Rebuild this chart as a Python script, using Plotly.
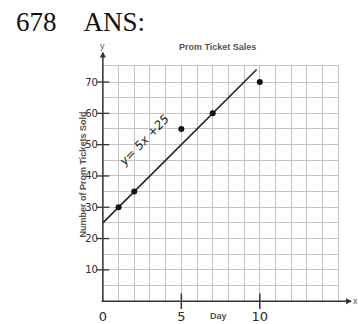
import plotly.graph_objects as go

# Prom ticket sales data
days = [1, 2, 5, 7, 10]
tickets = [30, 35, 55, 60, 70]

# Line of best fit y = 5x + 25
slope = 5
intercept = 25
fit_x = [0, 9.8]
fit_y = [slope * v + intercept for v in fit_x]

x_ticks = [0, 5, 10]
x_tick_text = ["0", "5", "10"]
y_ticks = [10, 20, 30, 40, 50, 60, 70]
y_tick_text = ["10", "20", "30", "40", "50", "60", "70"]

W, H = 358, 324
x0_px, x1_px = 100, 338
y0_px, y1_px = 304, 67

hand_font = dict(family="DejaVu Sans", size=10, color="#2a2a2a")
label_font = dict(family="Liberation Sans", size=9, color="#555555")
grid_col = "#c4c4c4"
ink = "#333333"

fig = go.Figure()

# crossing tick marks on both axes
fig.add_trace(go.Scatter(
    x=[0] * len(y_ticks), y=y_ticks, mode="markers",
    marker=dict(symbol="line-ew-open", size=9, color=ink, line=dict(color=ink, width=1.3)),
    cliponaxis=False, hoverinfo="skip", showlegend=False))
fig.add_trace(go.Scatter(
    x=x_ticks[1:], y=[0] * (len(x_ticks) - 1), mode="markers",
    marker=dict(symbol="line-ns-open", size=11, color=ink, line=dict(color=ink, width=1.5)),
    cliponaxis=False, hoverinfo="skip", showlegend=False))

fig.add_trace(go.Scatter(
    x=fit_x, y=fit_y, mode="lines",
    line=dict(color="#222", width=1.6), showlegend=False))
fig.add_trace(go.Scatter(
    x=days, y=tickets, mode="markers",
    marker=dict(color="#111", size=6), showlegend=False))

fig.update_layout(
    width=W, height=H,
    margin=dict(l=0, r=0, t=0, b=0),
    paper_bgcolor="white", plot_bgcolor="white",
    xaxis=dict(
        domain=[x0_px / W, x1_px / W], range=[0, 15],
        tickvals=x_ticks, ticktext=x_tick_text,
        tickfont=dict(family="DejaVu Sans", size=13, color="#2a2a2a"),
        ticks="outside", ticklen=3, tickcolor="rgba(0,0,0,0)",
        showgrid=True, gridcolor=grid_col, gridwidth=1,
        minor=dict(dtick=1, tick0=0, showgrid=True, gridcolor=grid_col, gridwidth=1),
        showline=True, linecolor=grid_col, mirror=True,
        zeroline=False, fixedrange=True,
    ),
    yaxis=dict(
        domain=[(H - y0_px) / H, (H - y1_px) / H], range=[0, 75],
        tickvals=y_ticks, ticktext=y_tick_text,
        tickfont=hand_font,
        ticks="outside", ticklen=2, tickcolor="rgba(0,0,0,0)",
        showgrid=True, gridcolor=grid_col, gridwidth=1,
        minor=dict(dtick=5, tick0=0, showgrid=True, gridcolor=grid_col, gridwidth=1),
        showline=True, linecolor=grid_col, mirror=True,
        zeroline=False, fixedrange=True,
    ),
)


def label(text, px, py, font, angle=0, xanchor="center"):
    return dict(text=text, xref="paper", yref="paper", x=px / W, y=1 - py / H,
                xanchor=xanchor, yanchor="middle", textangle=angle,
                showarrow=False, font=font)


small_font = dict(family="Liberation Sans", size=9, color="#555")
annotations = [
    label("678&nbsp;&nbsp;&nbsp;&nbsp;ANS:", 10, 22,
          dict(family="Liberation Serif", size=27, color="#111"), xanchor="left"),
    label("<b>Prom Ticket Sales</b>", 216, 47, label_font),
    label("y", 100, 46, small_font),
    label("x", 355, 304, small_font),
    label("<b>Day</b>", 217, 319, label_font),
    label("<b>Number of Prom Tickets Sold</b>", 80, 176, label_font, angle=-90),
    # equation written along the fit line
    dict(text="<i>y= 5x +25</i>", x=2.65, y=51.5, xref="x", yref="y",
         xanchor="center", yanchor="middle", textangle=-46, showarrow=False,
         font=dict(family="DejaVu Sans", size=12, color="#222")),
    # axes with arrowheads
    dict(text="", xref="paper", yref="y", x=352 / W, y=0,
         axref="pixel", ayref="pixel", ax=-(352 - x0_px), ay=0,
         showarrow=True, arrowhead=2, arrowsize=0.8, arrowwidth=1.5, arrowcolor=ink),
    dict(text="", xref="x", yref="paper", x=0, y=1 - 52 / H,
         axref="pixel", ayref="pixel", ax=0, ay=y0_px - 52,
         showarrow=True, arrowhead=2, arrowsize=0.8, arrowwidth=1.5, arrowcolor=ink),
]
fig.update_layout(annotations=annotations)

fig.write_html("out.html")
